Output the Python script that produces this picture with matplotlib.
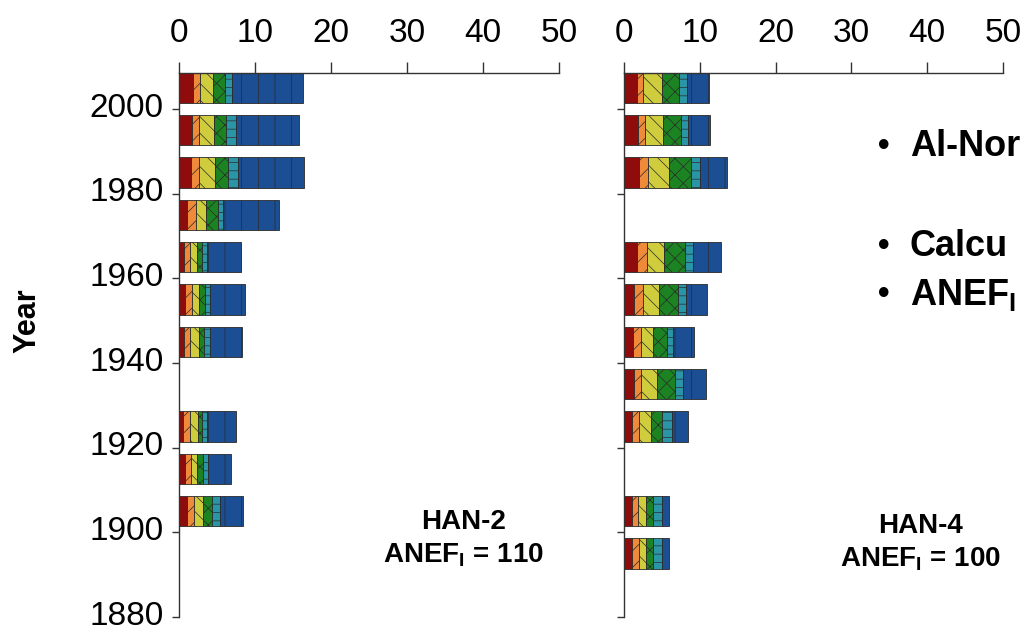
import matplotlib
matplotlib.use('Agg')
import matplotlib.pyplot as plt
import matplotlib.transforms as mtransforms
import numpy as np

plt.rcParams['font.family'] = ['Liberation Sans', 'DejaVu Sans']
plt.rcParams['hatch.linewidth'] = 0.5

# bar centres (year) and stacked class widths
han2_years = [2005, 1995, 1985, 1975, 1965, 1955, 1945, 1925, 1915, 1905]
han2_darkred = [1.8, 1.75, 1.6, 1.1, 0.66, 0.8, 0.66, 0.5, 0.8, 1.0]
han2_orange = [1.0, 0.9, 1.1, 1.15, 0.8, 0.9, 0.8, 0.9, 0.75, 0.97]
han2_yellow = [1.7, 2.0, 2.0, 1.3, 0.87, 1.0, 1.23, 1.05, 0.87, 1.23]
han2_green = [1.5, 1.6, 1.75, 1.55, 0.75, 0.75, 0.65, 0.55, 0.7, 1.1]
han2_teal = [1.0, 1.2, 1.3, 0.7, 0.66, 0.65, 0.75, 0.65, 0.75, 1.1]
han2_blue = [9.3, 8.3, 8.7, 7.4, 4.4, 4.6, 4.17, 3.85, 2.95, 3.0]

han4_years = [2005, 1995, 1985, 1965, 1955, 1945, 1935, 1925, 1905, 1895]
han4_darkred = [1.67, 1.8, 1.98, 1.67, 1.36, 1.23, 1.32, 1.01, 1.0, 1.0]
han4_orange = [0.88, 0.97, 1.22, 1.32, 1.19, 0.97, 0.92, 0.97, 0.88, 1.0]
han4_yellow = [2.42, 2.33, 2.78, 2.33, 2.11, 1.58, 2.07, 1.58, 0.97, 0.9]
han4_green = [2.33, 2.37, 2.86, 2.73, 2.51, 1.85, 2.42, 1.41, 1.01, 0.97]
han4_teal = [0.97, 1.03, 1.16, 1.1, 1.01, 0.88, 1.1, 1.33, 1.1, 1.1]
han4_blue = [3.0, 2.85, 3.6, 3.65, 2.72, 2.73, 2.94, 2.1, 0.97, 1.0]

year_ticks = [1880, 1900, 1920, 1940, 1960, 1980, 2000]
x_ticks = [0, 10, 20, 30, 40, 50]

colors = ['#8e0c0c', '#ef8a3a', '#cfcd3e', '#1c8322', '#2a95a6', '#1b4e92']
hatches = ['', '//', '\\\\', 'xx', '--', '|']

fig = plt.figure(figsize=(10.28, 6.33), dpi=100)
ax1 = fig.add_axes([0.1741, 0.0253, 0.3696, 0.8594])
ax2 = fig.add_axes([0.607, 0.0253, 0.3687, 0.8594])


def draw(ax, years, parts, show_labels):
    left = np.zeros(len(years))
    for vals, c, h in zip(parts, colors, hatches):
        ax.barh(years, vals, height=7.2, left=left, color=c, hatch=h,
                edgecolor='#2a2a2a', linewidth=0.6)
        left = left + np.array(vals)
    ax.set_xlim(0, 50)
    ax.set_ylim(1880, 2008.5)
    ax.xaxis.tick_top()
    ax.set_xticks(x_ticks)
    ax.set_yticks(year_ticks)
    if not show_labels:
        ax.set_yticklabels([])
    ax.spines['right'].set_visible(False)
    ax.spines['bottom'].set_visible(False)
    for s in ['left', 'top']:
        ax.spines[s].set_color('#333333')
        ax.spines[s].set_linewidth(1.0)
    ax.tick_params(axis='x', direction='out', length=8, width=1.0,
                   color='#333333', labelsize=24, pad=9)
    ax.tick_params(axis='y', direction='out', length=5, width=1.0,
                   color='#333333', labelsize=24, pad=6)


draw(ax1, han2_years, [han2_darkred, han2_orange, han2_yellow, han2_green,
                       han2_teal, han2_blue], True)
draw(ax2, han4_years, [han4_darkred, han4_orange, han4_yellow, han4_green,
                       han4_teal, han4_blue], False)

# nudge year labels up a little so the bottom one stays inside the figure
shift = mtransforms.ScaledTranslation(0, 3 / 72, fig.dpi_scale_trans)
for lab in ax1.get_yticklabels():
    lab.set_transform(lab.get_transform() + shift)

fig.text(0.027, 0.494, 'Year', rotation=90, fontsize=22, fontweight='bold',
         ha='center', va='center')

ax1.text(37.4, 1898.4, 'HAN-2\nANEF$_\\mathregular{I}$ = 110', ha='center',
         va='center', fontsize=20, fontweight='bold', linespacing=1.3)
ax2.text(39.05, 1897.5, 'HAN-4\nANEF$_\\mathregular{I}$ = 100', ha='center',
         va='center', fontsize=20, fontweight='bold', linespacing=1.3)

fig.text(0.854, 0.769, '\u2022', fontsize=24, fontweight='bold', va='center')
fig.text(0.885, 0.769, 'Al-Nor', fontsize=26, fontweight='bold', va='center')
fig.text(0.854, 0.611, '\u2022', fontsize=24, fontweight='bold', va='center')
fig.text(0.885, 0.611, 'Calcu', fontsize=26, fontweight='bold', va='center')
fig.text(0.854, 0.534, '\u2022', fontsize=24, fontweight='bold', va='center')
fig.text(0.885, 0.534, 'ANEF$_\\mathregular{I}$', fontsize=26,
         fontweight='bold', va='center')

fig.savefig('out.png', dpi=100)
